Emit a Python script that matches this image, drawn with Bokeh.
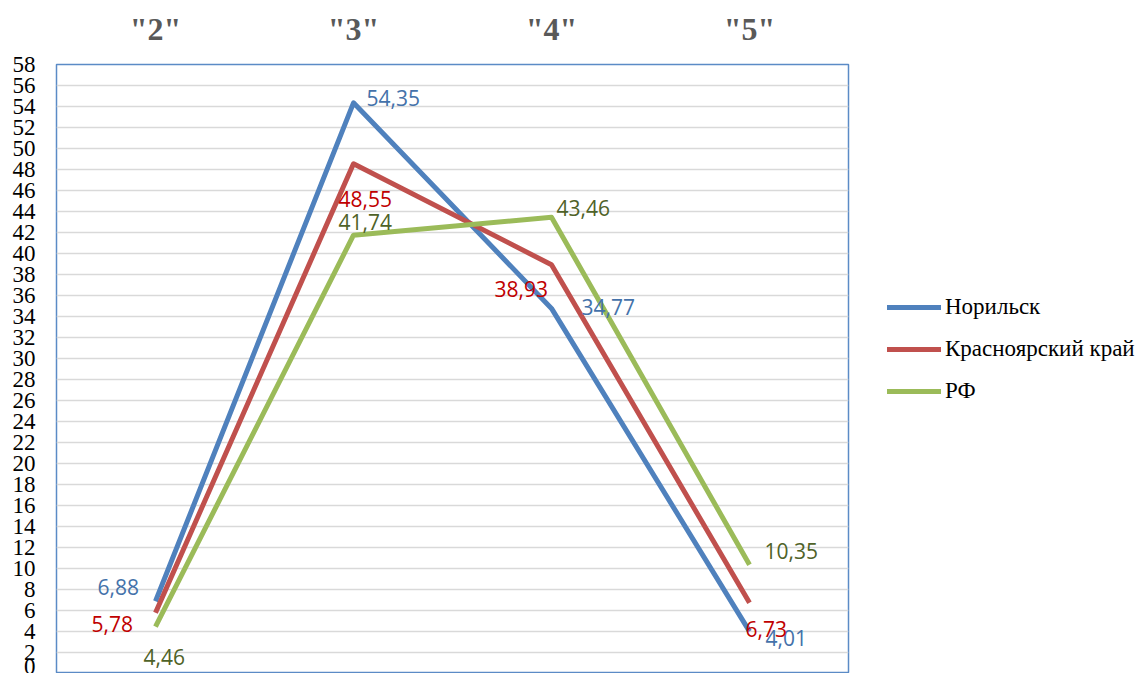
from bokeh.plotting import figure
from bokeh.layouts import row
from bokeh.models import ColumnDataSource, FixedTicker, Legend, LegendItem
from bokeh.core.properties import value
from bokeh.embed import file_html
from bokeh.resources import INLINE

categories = ['"2"', '"3"', '"4"', '"5"']
series_names = ["Норильск", "Красноярский край", "РФ"]
norilsk = [6.88, 54.35, 34.77, 4.01]
krasnoyarsk = [5.78, 48.55, 38.93, 6.73]
rf = [4.46, 41.74, 43.46, 10.35]
y_ticks = list(range(0, 59, 2))

line_colors = ["#4F81BD", "#C0504D", "#9BBB59"]
label_colors = ["#4472AA", "#C00000", "#4F6228"]
# label placement (pixels, relative to the point; left edge / vertical centre)
label_dx = [[-58, 13, 30, 16], [-64, -15, -57, -4], [-12, -15, 5, 15]]
label_dy = [[-14, -5, -1, 7], [11, 35, 24, 26], [30, -13, -9, -14]]

H = 673
W1 = 850
W2 = 292
p = figure(x_range=categories, y_range=(0, 58), width=W1, height=H,
           output_backend="svg", toolbar_location=None,
           x_axis_location="above",
           min_border_left=56, min_border_top=64, min_border_right=2,
           min_border_bottom=0)
p.background_fill_color = "white"
p.border_fill_color = "white"
p.outline_line_color = "#5B8BC6"
p.outline_line_width = 1.5
p.x_range.range_padding = 0

p.xgrid.grid_line_color = None
p.ygrid.grid_line_color = "#D9D9D9"
p.ygrid.grid_line_width = 1.5

p.yaxis.ticker = FixedTicker(ticks=y_ticks)
p.yaxis.axis_line_color = None
p.yaxis.major_tick_line_color = None
p.yaxis.minor_tick_line_color = None
p.yaxis.major_label_text_font = "Liberation Serif"
p.yaxis.major_label_text_font_size = "23px"
p.yaxis.major_label_text_color = "black"
p.yaxis.major_label_standoff = 15

p.xaxis.axis_line_color = None
p.xaxis.major_tick_line_color = None
p.xaxis.minor_tick_line_color = None
p.xaxis.major_label_text_font = "Liberation Serif"
p.xaxis.major_label_text_font_style = "bold"
p.xaxis.major_label_text_font_size = "32px"
p.xaxis.major_label_text_color = "#595959"
p.xaxis.major_label_standoff = 12

for i, vals in enumerate([norilsk, krasnoyarsk, rf]):
    p.line(categories, vals, line_color=line_colors[i], line_width=5,
           line_join="round")

for i, vals in enumerate([norilsk, krasnoyarsk, rf]):
    src = ColumnDataSource(dict(
        x=categories, y=vals,
        t=[f"{v:.2f}".replace(".", ",") for v in vals],
        dx=label_dx[i], dy=label_dy[i]))
    p.text(x="x", y="y", text="t", x_offset="dx", y_offset="dy", source=src,
           text_font=value("Open Sans"), text_font_size="21px",
           text_color=label_colors[i], text_align="left",
           text_baseline="middle")

# legend panel
q = figure(width=W2, height=H, x_range=(0, 1), y_range=(0, 1),
           output_backend="svg", toolbar_location=None,
           min_border_left=0, min_border_right=0, min_border_top=0,
           min_border_bottom=0)
q.axis.visible = False
q.grid.visible = False
q.outline_line_color = None
items = []
for i in range(3):
    r = q.line([5, 6], [5, 6], line_color=line_colors[i], line_width=5,
               line_cap="round")
    items.append(LegendItem(label=series_names[i], renderers=[r]))
legend = Legend(items=items, location=(37, 269), padding=0, margin=0,
                spacing=16, glyph_width=54, glyph_height=20,
                label_standoff=4, label_text_font="Liberation Serif",
                label_text_font_size="23px", label_text_color="black",
                border_line_color=None, background_fill_alpha=0)
q.add_layout(legend, "center")

layout = row(p, q)
open("out.html", "w").write(file_html(layout, INLINE))
